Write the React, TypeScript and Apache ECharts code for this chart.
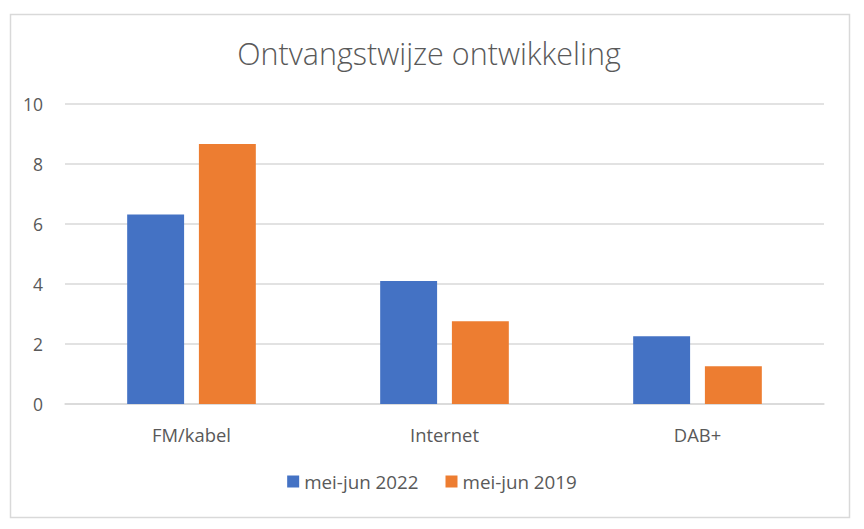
import React, { useEffect, useRef } from "react";
import * as echarts from "echarts";

const categories = ["FM/kabel", "Internet", "DAB+"];
const series2022 = [6.32, 4.1, 2.26];
const series2019 = [8.67, 2.76, 1.26];
const seriesNames = ["mei-jun 2022", "mei-jun 2019"];
const titleText = "Ontvangstwijze ontwikkeling";

const FONT = "'Open Sans', 'Noto Sans', sans-serif";
const GRAY = "#595959";

export default function App() {
  const ref = useRef<HTMLDivElement>(null);
  useEffect(() => {
    if (!ref.current) return;
    const chart = echarts.init(ref.current, undefined, { renderer: "svg" });
    chart.setOption({
      animation: false,
      backgroundColor: "#ffffff",
      title: {
        text: titleText,
        left: 424,
        textAlign: "center",
        top: 32,
        textStyle: { fontFamily: FONT, fontWeight: 300, fontSize: 30.5, color: GRAY },
      },
      graphic: [
        {
          type: "rect",
          shape: { x: 10.5, y: 14.5, width: 839, height: 503 },
          style: { fill: "none", stroke: "#d9d9d9", lineWidth: 1.5 },
          silent: true,
        },
      ],
      legend: {
        data: seriesNames,
        bottom: 33,
        left: "center",
        itemWidth: 12,
        itemHeight: 12,
        itemGap: 27,
        icon: "rect",
        textStyle: { fontFamily: FONT, fontSize: 18.8, color: GRAY },
      },
      grid: { left: 65, right: 40, top: 104, bottom: 125 },
      xAxis: {
        type: "category",
        data: categories,
        axisLine: { show: true, lineStyle: { color: "#d9d9d9", width: 1.5 } },
        axisTick: { show: false },
        axisLabel: { fontFamily: FONT, fontSize: 18.4, color: GRAY, margin: 21 },
      },
      yAxis: {
        type: "value",
        min: 0,
        max: 10,
        interval: 2,
        axisLine: { show: false },
        axisTick: { show: false },
        splitLine: { lineStyle: { color: "#d9d9d9", width: 1.5 } },
        axisLabel: { fontFamily: FONT, fontSize: 17.5, color: GRAY, margin: 22 },
      },
      series: [
        {
          name: seriesNames[0],
          type: "bar",
          data: series2022,
          barWidth: "22.5%",
          barGap: "26%",
          itemStyle: { color: "#4472C4" },
        },
        {
          name: seriesNames[1],
          type: "bar",
          data: series2019,
          barWidth: "22.5%",
          barGap: "26%",
          itemStyle: { color: "#ED7D31" },
        },
      ],
    });
    return () => chart.dispose();
  }, []);
  return (
    <div
      ref={ref}
      style={{ position: "fixed", left: 0, top: 0, width: 864, height: 529, background: "#fff" }}
    />
  );
}
